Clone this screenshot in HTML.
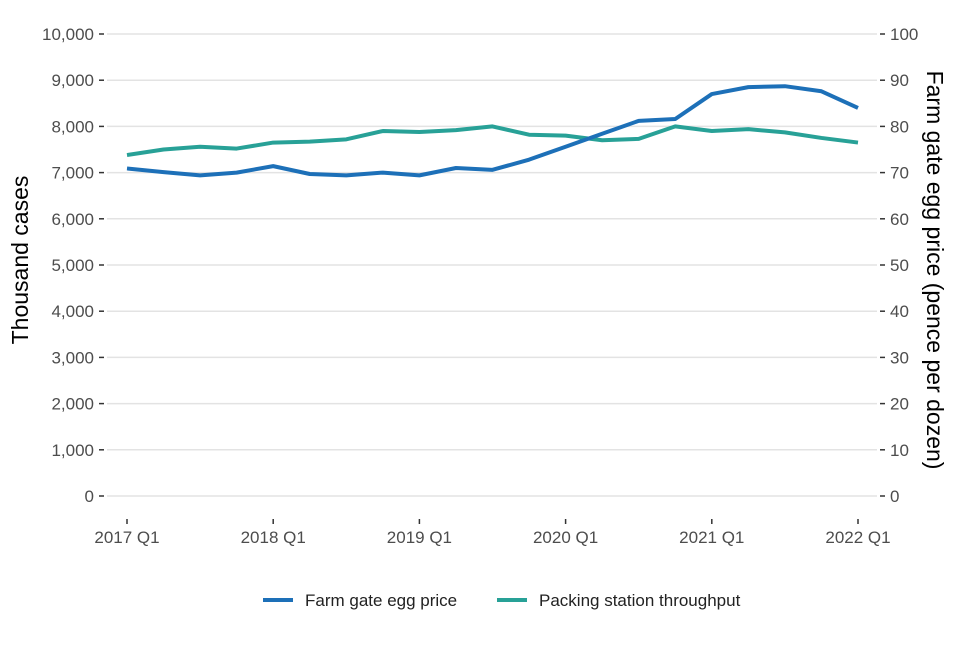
<!DOCTYPE html>
<html><head><meta charset="utf-8"><style>
body{margin:0;background:#fff;font-family:"Liberation Sans",Arial,sans-serif}
</style></head><body>
<svg id="c" width="960" height="640" xmlns="http://www.w3.org/2000/svg"></svg>
<script>
const categories=["2017 Q1","2017 Q2","2017 Q3","2017 Q4","2018 Q1","2018 Q2","2018 Q3","2018 Q4","2019 Q1","2019 Q2","2019 Q3","2019 Q4","2020 Q1","2020 Q2","2020 Q3","2020 Q4","2021 Q1","2021 Q2","2021 Q3","2021 Q4","2022 Q1"];
const priceValues=[70.9,70.1,69.4,70.0,71.4,69.7,69.4,70.0,69.4,71.0,70.6,72.8,75.6,78.4,81.2,81.6,87.0,88.5,88.7,87.6,84.0];
const throughputValues=[7380,7500,7560,7520,7650,7670,7720,7900,7880,7920,8000,7820,7800,7700,7730,8000,7900,7940,7870,7750,7650];
const leftTicks=[0,1000,2000,3000,4000,5000,6000,7000,8000,9000,10000];
const rightTicks=[0,10,20,30,40,50,60,70,80,90,100];
const xTickLabels=["2017 Q1","2018 Q1","2019 Q1","2020 Q1","2021 Q1","2022 Q1"];

const svg=document.getElementById('c');const NS="http://www.w3.org/2000/svg";
function mk(t,a,txt){const e=document.createElementNS(NS,t);for(const k in a)e.setAttribute(k,a[k]);if(txt!=null)e.textContent=txt;svg.appendChild(e);return e;}
const x=i=>127+i*(858-127)/(categories.length-1);
const yL=v=>496-v*(496-34)/10000;
const yR=v=>496-v*(496-34)/100;
leftTicks.forEach((v,i)=>{
 const y=yL(v);
 let g=mk('line',{x1:107,x2:877,y1:y,y2:y,stroke:'#e3e3e3','stroke-width':1.5});
 
 mk('line',{x1:99,x2:104,y1:y,y2:y,stroke:'#333','stroke-width':1.5});
 let t=mk('text',{x:94,y:y+6,'text-anchor':'end','font-size':17,fill:'#4d4d4d'},v.toLocaleString('en-US'));
 
});
rightTicks.forEach(v=>{
 const y=yR(v);
 mk('line',{x1:880,x2:885,y1:y,y2:y,stroke:'#333','stroke-width':1.5});
 let t=mk('text',{x:890,y:y+6,'font-size':17,fill:'#4d4d4d'},String(v));
 
});
xTickLabels.forEach(l=>{
 const xi=x(categories.indexOf(l));
 mk('line',{x1:xi,x2:xi,y1:519,y2:524,stroke:'#333','stroke-width':1.5});
 let t=mk('text',{x:xi,y:543,'text-anchor':'middle','font-size':17,fill:'#4d4d4d'},l);
 
});
let lt=mk('text',{transform:'translate(28,260) rotate(-90)','text-anchor':'middle','font-size':23,fill:'#000'},'Thousand cases');

let rt=mk('text',{transform:'translate(927,270) rotate(90)','text-anchor':'middle','font-size':23,fill:'#000'},'Farm gate egg price (pence per dozen)');

let p1=mk('polyline',{points:throughputValues.map((v,i)=>x(i)+','+yL(v)).join(' '),fill:'none',stroke:'#28a197','stroke-width':4,'stroke-linejoin':'round'});

let p2=mk('polyline',{points:priceValues.map((v,i)=>x(i)+','+yR(v)).join(' '),fill:'none',stroke:'#1d70b8','stroke-width':4,'stroke-linejoin':'round'});

let l1=mk('line',{x1:263,x2:293,y1:600,y2:600,stroke:'#1d70b8','stroke-width':4});

let t1=mk('text',{x:305,y:606,'font-size':17,fill:'#222'},'Farm gate egg price');

let l2=mk('line',{x1:497,x2:527,y1:600,y2:600,stroke:'#28a197','stroke-width':4});

let t2=mk('text',{x:539,y:606,'font-size':17,fill:'#222'},'Packing station throughput');

</script>
</body></html>
